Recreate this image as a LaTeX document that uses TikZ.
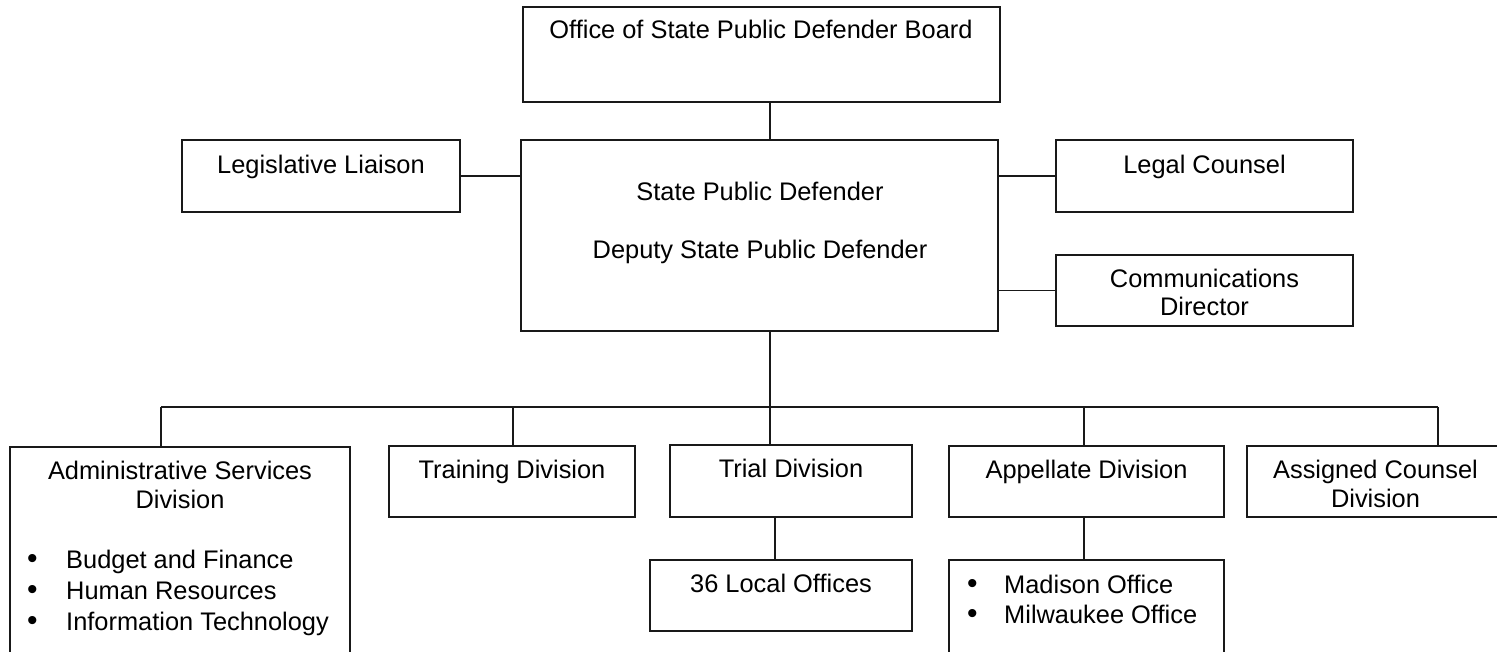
\documentclass[tikz,border=0pt]{standalone}
\usepackage{fontspec}
\setmainfont{Liberation Sans}
\newcommand{\bul}[1]{\makebox[#1][l]{\hspace{-0.6pt}\raisebox{-0.8pt}{\fontsize{30pt}{30pt}\selectfont •}}}
\begin{document}
\begin{tikzpicture}[x=1pt,y=-1pt,
  box/.style={draw=black!90, line width=1.9pt, inner sep=0pt, outer sep=0pt},
  lbl/.style={anchor=base, inner sep=0pt, align=center, font=\fontsize{25.4pt}{29pt}\selectfont},
  blist/.style={anchor=base west, inner sep=0pt, align=left, font=\fontsize{25.4pt}{31pt}\selectfont},
  conn/.style={draw=black!90, line width=1.9pt}]
\useasboundingbox (0,0) rectangle (1497,651);
\clip (0,0) rectangle (1497,651);
% boxes
\node[box, minimum width=477pt, minimum height=95pt]  (board)    at (761.5,54.5) {};
\node[box, minimum width=477pt, minimum height=191pt] (spd)      at (759.5,235.5) {};
\node[box, minimum width=278pt, minimum height=72pt]  (leg)      at (321,176) {};
\node[box, minimum width=297pt, minimum height=72pt]  (legal)    at (1204.5,176) {};
\node[box, minimum width=297pt, minimum height=71pt]  (comm)     at (1204.5,290.5) {};
\node[box, minimum width=340pt, minimum height=233pt] (admin)    at (180,563.5) {};
\node[box, minimum width=246pt, minimum height=71pt]  (training) at (512,481.5) {};
\node[box, minimum width=242pt, minimum height=72pt]  (trial)    at (791,481) {};
\node[box, minimum width=275pt, minimum height=71pt]  (appel)    at (1086.5,481.5) {};
\node[box, minimum width=257pt, minimum height=71pt]  (assigned) at (1375.5,481.5) {};
\node[box, minimum width=262pt, minimum height=71pt]  (local)    at (781,595.5) {};
\node[box, minimum width=275pt, minimum height=120pt] (madison)  at (1086.5,620) {};
% texts (multi-line nodes: base = last line's baseline)
\node[lbl] (tboard) at (761,38) {Office of State Public Defender Board};
\node[lbl] (tspdA) at (760,200) {State Public Defender};
\node[lbl] (tspdB) at (760,258) {Deputy State Public Defender};
\node[lbl] (tleg) at (321,173) {Legislative Liaison};
\node[lbl] (tlegal) at (1204.5,173) {Legal Counsel};
\node[lbl, font=\fontsize{25.4pt}{28pt}\selectfont] (tcomm) at (1204.5,315) {Communications\\Director};
\node[lbl] (tadmin) at (180,508) {Administrative Services\\Division};
\node[blist] (ladmin) at (27.5,630) {\bul{38.5pt}Budget and Finance\\\bul{38.5pt}Human Resources\\\bul{38.5pt}Information Technology};
\node[lbl] (ttraining) at (512,478) {Training Division};
\node[lbl] (ttrial) at (791,477) {Trial Division};
\node[lbl] (tappel) at (1086.5,478) {Appellate Division};
\node[lbl] (tassigned) at (1375.5,507) {Assigned Counsel\\Division};
\node[lbl] (tlocal) at (781,592) {36 Local Offices};
\node[blist, font=\fontsize{25.4pt}{30pt}\selectfont] (lmadison) at (967.5,623) {\bul{36.5pt}Madison Office\\\bul{36.5pt}Milwaukee Office};
% connector columns
\coordinate (trunk) at (770,407);
\coordinate (busL) at (161,407);
\coordinate (busR) at (1438,407);
\coordinate (cTrain) at (513,407);
\coordinate (cAppel) at (1084,407);
\coordinate (cLocal) at (775,560);
% connectors
\draw[conn] (trunk |- board.south) -- (trunk |- spd.north);
\draw[conn] (trunk |- spd.south) -- (trunk);
\draw[conn] (leg.east) -- (leg.east -| spd.west);
\draw[conn] (legal.west -| spd.east) -- (legal.west);
\draw[conn] (comm.west -| spd.east) -- (comm.west);
\draw[conn] (busL) -- (busR);
\draw[conn] (busL) -- (busL |- admin.north);
\draw[conn] (cTrain) -- (cTrain |- training.north);
\draw[conn] (trunk) -- (trunk |- trial.north);
\draw[conn] (cAppel) -- (cAppel |- appel.north);
\draw[conn] (busR) -- (busR |- assigned.north);
\draw[conn] (cLocal |- trial.south) -- (cLocal |- local.north);
\draw[conn] (cAppel |- appel.south) -- (cAppel |- madison.north);
\end{tikzpicture}
\end{document}
